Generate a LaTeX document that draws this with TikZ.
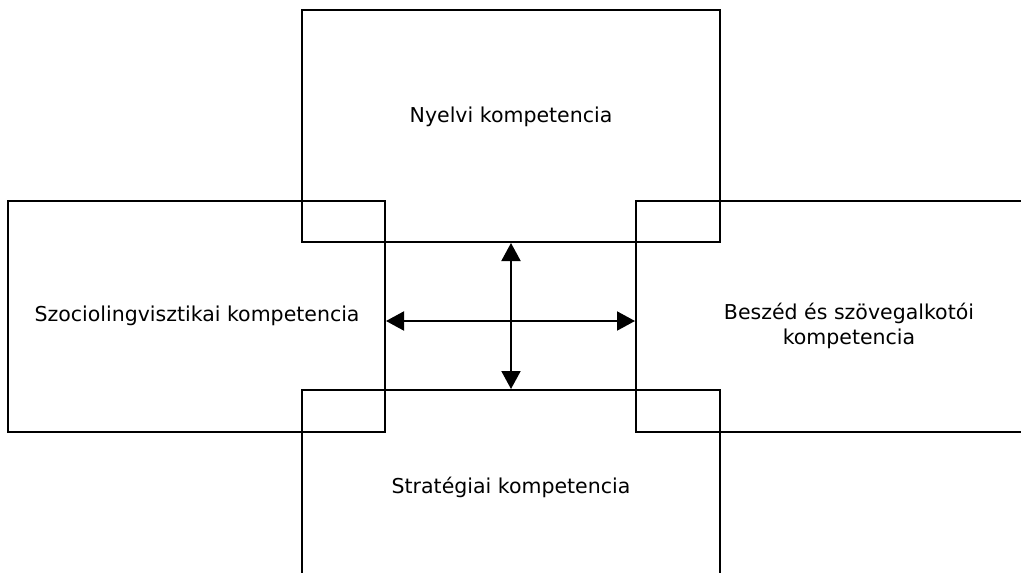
\documentclass[tikz,border=0pt]{standalone}
\usepackage{fontspec}
\setmainfont{DejaVu Sans}
\usetikzlibrary{arrows.meta}
\begin{document}
\begin{tikzpicture}[x=1pt,y=-1pt,
  box/.style={draw, line width=1.3pt, inner sep=0pt, outer sep=0pt},
  lbl/.style={font=\fontsize{20.5}{25}\selectfont, align=center, inner sep=0pt},
  link/.style={line width=2pt, {Triangle[length=18pt,width=19pt]}-{Triangle[length=18pt,width=19pt]}, shorten <=1pt, shorten >=1pt}]
  \useasboundingbox (0,0) rectangle (1021,573);
  \clip (0,0) rectangle (1021,573);
  \fill[white] (0,0) rectangle (1021,573);
  % the four overlapping competence boxes
  \node[box, minimum width=418pt, minimum height=232pt] (top) at (511,126) {};
  \node[box, minimum width=377pt, minimum height=231pt] (left) at (196.5,316.5) {};
  \node[box, minimum width=444pt, minimum height=231pt] (right) at (858,316.5) {};
  \node[box, minimum width=418pt, minimum height=240pt] (bot) at (511,510) {};
  % labels
  \node[lbl] (tl) at (511,117) {Nyelvi kompetencia};
  \node[lbl] (ll) at (197,316) {Szociolingvisztikai kompetencia};
  \node[lbl] (rl) at (849,326) {Beszéd és szövegalkotói\\kompetencia};
  \node[lbl] (bl) at (511,487) {Stratégiai kompetencia};
  % links between the boxes
  \coordinate (hub) at (511,321);
  \draw[link] (top.south) -- (bot.north);
  \draw[link] (left.east |- hub) -- (right.west |- hub);
\end{tikzpicture}
\end{document}
